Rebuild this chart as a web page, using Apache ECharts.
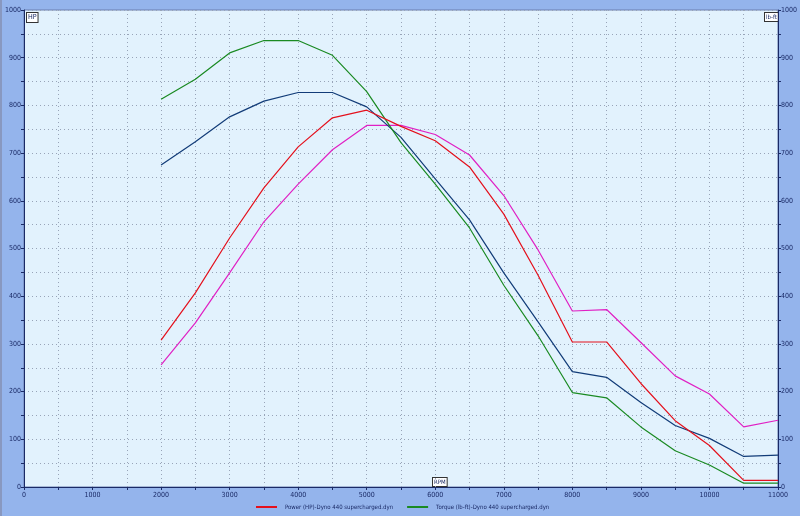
<!DOCTYPE html>
<html><head><meta charset="utf-8">
<script src="https://cdn.jsdelivr.net/npm/echarts@6/dist/echarts.min.js"></script>
<style>html,body{margin:0;padding:0;background:#94b4ec;}#c{width:800px;height:516px;}</style>
</head><body><div id="c"></div>
<script>
const rpm = [2000,2500,3000,3500,4000,4500,5000,5500,6000,6500,7000,7500,8000,8500,9000,9500,10000,10500,11000];
const powerHP = [308,407,522,627,713,774,790,756,726,671,572,444,304,304,217,139,87,14,14];
const torqueLbFt = [813,855,910,936,936,905,829,722,635,543,423,317,198,187,126,76,46,8,8];
const power2HP = [256,344,449,556,635,707,758,758,739,696,611,497,369,372,303,233,195,126,140];
const torque2LbFt = [675,724,776,809,827,827,797,733,646,560,449,346,242,230,177,129,102,64,67];
const xTicks = [0,1000,2000,3000,4000,5000,6000,7000,8000,9000,10000,11000];
const yTicks = [0,100,200,300,400,500,600,700,800,900,1000];

const FONT = "'Liberation Sans Narrow','DejaVu Sans Condensed',sans-serif";
const TXT = '#1a2a66';
function pts(arr){ return rpm.map((r,i)=>[r,arr[i]]); }
const chart = echarts.init(document.getElementById('c'));
const yAxisBase = {
  type:'value', min:0, max:1000, interval:50,
  axisLine:{show:true, lineStyle:{color:'#1a2a66', width:1}},
  axisTick:{show:true, length:3, lineStyle:{color:'#1a2a66'}},
  axisLabel:{fontFamily:FONT, fontSize:7, color:TXT, margin:3,
    formatter:v=> yTicks.includes(v)? String(v):''},
};
chart.setOption({
  backgroundColor:'#94b4ec',
  animation:false,
  grid:{left:24,right:22,top:10,bottom:29,show:true,backgroundColor:'#e2f2fd',borderColor:'#6a7fb0',borderWidth:1},
  xAxis:{type:'value',min:0,max:11000,interval:500,
    axisLine:{show:true,onZero:false,lineStyle:{color:'#1a2a66'}},
    axisTick:{show:true,length:3,lineStyle:{color:'#1a2a66'}},
    axisLabel:{fontFamily:FONT,fontSize:7,color:TXT,margin:5,
      formatter:v=> xTicks.includes(v)? String(v):''},
    splitLine:{show:true,lineStyle:{color:'#98a4b8',type:[1,3],width:1}}
  },
  yAxis:[
    Object.assign({},yAxisBase,{position:'left',
      splitLine:{show:true,lineStyle:{color:'#98a4b8',type:[1,3],width:1}}}),
    Object.assign({},yAxisBase,{position:'right',splitLine:{show:false}})
  ],
  legend:{show:true,top:504,left:256,icon:'rect',itemWidth:21,itemHeight:2,itemGap:14,padding:0,
    textStyle:{fontFamily:FONT,fontSize:6,color:TXT,padding:[0,0,0,3]},
    data:['Power (HP)-Dyno 440 supercharged.dyn','Torque (lb-ft)-Dyno 440 supercharged.dyn']},
  series:[
    {name:'Power (HP)-Dyno 440 supercharged.dyn',type:'line',data:pts(powerHP),showSymbol:false,symbol:'none',
      lineStyle:{color:'#e4101c',width:1.2},itemStyle:{color:'#e4101c'},z:4},
    {name:'Torque (lb-ft)-Dyno 440 supercharged.dyn',type:'line',data:pts(torqueLbFt),showSymbol:false,symbol:'none',
      lineStyle:{color:'#1a8a22',width:1.2},itemStyle:{color:'#1a8a22'},z:3},
    {name:'Power (HP)-run 2',type:'line',data:pts(power2HP),showSymbol:false,symbol:'none',
      lineStyle:{color:'#e020c4',width:1.2},itemStyle:{color:'#e020c4'},z:2},
    {name:'Torque (lb-ft)-run 2',type:'line',data:pts(torque2LbFt),showSymbol:false,symbol:'none',
      lineStyle:{color:'#123c78',width:1.2},itemStyle:{color:'#123c78'},z:2}
  ],
  graphic:[
    {type:'rect',left:0,top:0,shape:{width:2,height:516},style:{fill:'#8898c0'},silent:true},
    {type:'text',left:26,top:12,style:{text:'HP',font:'7px '+FONT,fill:TXT,backgroundColor:'#ffffff',borderColor:'#333',borderWidth:1,padding:[1,1]}},
    {type:'text',left:764,top:12,style:{text:'lb-ft',font:'6px '+FONT,fill:TXT,backgroundColor:'#ffffff',borderColor:'#333',borderWidth:1,padding:[1,1]}},
    {type:'text',left:432,top:477,style:{text:'RPM',font:'6px '+FONT,fill:TXT,backgroundColor:'#ffffff',borderColor:'#333',borderWidth:1,padding:[1,1]}}
  ]
});
</script></body></html>
